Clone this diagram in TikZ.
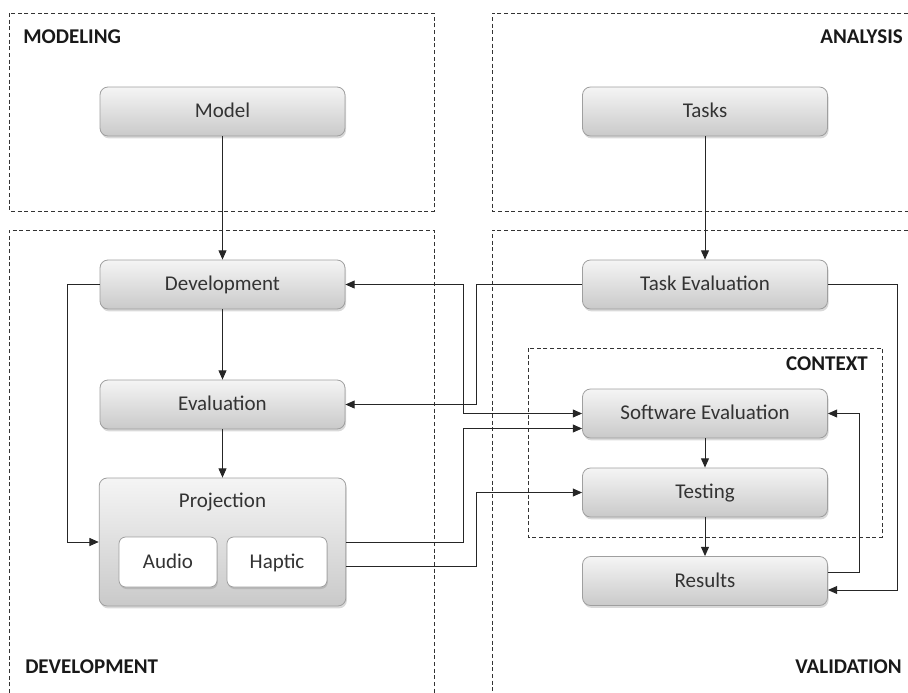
\documentclass[tikz,border=0pt]{standalone}
\usepackage{fontspec}
\setmainfont{Carlito}
\usetikzlibrary{arrows.meta,shadows}

\tikzset{
  region/.style={draw=black!80, line width=0.65pt, dash pattern=on 3pt off 2pt},
  regionlabel/.style={inner sep=0pt, font=\fontsize{15.75}{18}\selectfont\bfseries, text=black!90},
  stage/.style={draw=gray!75, line width=0.6pt, rounded corners=6pt,
    top color=gray!8, bottom color=gray!42, text=black!80,
    text height=12.5pt, text depth=3pt,
    minimum width=183.75pt, minimum height=36.75pt,
    drop shadow={shadow xshift=0.8pt, shadow yshift=-1.8pt, opacity=0.3}},
  channel/.style={draw=gray!75, line width=0.6pt, rounded corners=5pt,
    fill=white, text=black!80, minimum height=37.5pt,
    text height=12.5pt, text depth=3pt,
    drop shadow={shadow xshift=0.6pt, shadow yshift=-1.5pt, opacity=0.3}},
  link/.style={draw=black!85, line width=0.75pt, -{Triangle[length=7pt,width=6pt]}},
  duallink/.style={draw=black!85, line width=0.75pt, {Triangle[length=7pt,width=6pt]}-{Triangle[length=7pt,width=6pt]}}
}

\begin{document}
\begin{tikzpicture}[x=0.75pt, y=-0.75pt, font=\fontsize{15.75}{18}\selectfont]
  \useasboundingbox (0,0) rectangle (908,693);

  % regions
  \draw[region] (9,13) rectangle (434,211);
  \draw[region] (908,13) -- (492,13) -- (492,211) -- (908,211);
  \draw[region] (9,693) -- (9,230) -- (434,230) -- (434,693);
  \draw[region] (908,230) -- (492,230) -- (492,693);
  \draw[region] (528,348) rectangle (882,537);

  \node[regionlabel, anchor=west] (lmodel) at (23,37) {MODELING};
  \node[regionlabel, anchor=east] (lanalysis) at (903,37) {ANALYSIS};
  \node[regionlabel, anchor=west] (ldev) at (25,667) {DEVELOPMENT};
  \node[regionlabel, anchor=east] (lvalid) at (902,667) {VALIDATION};
  \node[regionlabel, anchor=east] (lcontext) at (868,364) {CONTEXT};

  % stages
  \node[stage] (model) at (222.5,111.5) {Model};
  \node[stage] (tasks) at (705,111.5) {Tasks};
  \node[stage] (dev) at (222.5,284.5) {Development};
  \node[stage] (taskeval) at (705,284.5) {Task Evaluation};
  \node[stage] (eval) at (222.5,404.5) {Evaluation};
  \node[stage] (softeval) at (705,413.5) {Software Evaluation};
  \node[stage] (testing) at (705,492.5) {Testing};
  \node[stage] (results) at (705,581) {Results};
  \node[stage, minimum width=185pt, minimum height=96pt, text height=11pt, text depth=63pt] (proj) at (222.5,542) {Projection};
  \node[channel, minimum width=73.5pt] (audio) at (168,562) {Audio};
  \node[channel, minimum width=75pt] (haptic) at (277,562) {Haptic};

  % connectors
  \draw[link] (model) -- (dev);
  \draw[link] (tasks) -- (taskeval);
  \draw[link] (dev) -- (eval);
  \draw[link] (eval) -- (proj);
  \draw[link] (softeval) -- (testing);
  \draw[link] (testing) -- (results);
  \draw[link] (dev.west) -- ++(-32,0) |- (proj.west);
  \draw[link] (taskeval.west) -- ++(-106,0) |- (eval.east);
  \draw[duallink] (dev.east) -- ++(118,0) |- (softeval.west);
  \draw[link] (proj.east) -- ++(117,0) |- ([yshift=-11.25pt]softeval.west);
  \draw[link] ([yshift=-18pt]proj.east) -- ++(130,0) |- (testing.west);
  \draw[link] (taskeval.east) -- ++(70,0) |- ([yshift=-6.75pt]results.east);
  \draw[link] ([yshift=6.75pt]results.east) -- ++(32,0) |- (softeval.east);
\end{tikzpicture}
\end{document}
